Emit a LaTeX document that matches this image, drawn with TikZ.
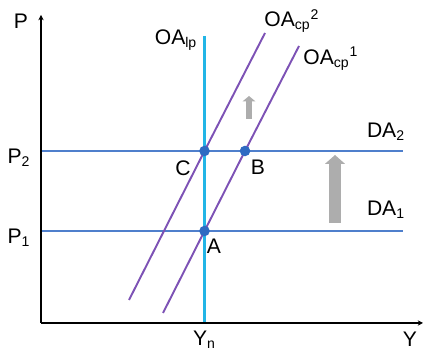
\documentclass[tikz,border=0pt]{standalone}
\usepackage{fontspec}
\setmainfont{Liberation Sans}
\usetikzlibrary{arrows.meta,positioning,calc,backgrounds}
\definecolor{MarketDemand}{HTML}{4F7FCC}
\definecolor{MarketLongRun}{HTML}{22B5E6}
\definecolor{MarketShortRun}{HTML}{7D52B5}
\definecolor{MarketPoint}{HTML}{2E6AC2}
\definecolor{MarketShift}{HTML}{ADADAD}

\begin{document}
\begin{tikzpicture}[>=Stealth, font=\large,
   axis/.style={line width=0.9pt, -{Stealth[length=3pt,width=3pt]}},
   demand/.style={MarketDemand, line width=1.2pt},
   longrun/.style={MarketLongRun, line width=1.2pt},
   shortrun/.style={MarketShortRun, line width=1.1pt},
   eqpoint/.style={circle, fill=MarketPoint, inner sep=0pt, minimum size=6pt},
   shiftarrow/.style={MarketShift}]
  \useasboundingbox (0,0) rectangle (8.48,7.08);
  % axes
  \coordinate (o) at (0.82,0.62);
  \coordinate (ptop) at (0.82,6.78);
  \coordinate (yend) at (8.46,0.62);
  \draw[axis] (o) -- (ptop);
  \draw[axis] (o) -- (yend);
  \node (plab) at (0.42,6.66) {P};
  \node (ylab) at (8.20,0.30) {Y};
  \node (ynlab) at (4.09,0.28) {Y\textsubscript{n}};
  % points
  \node[eqpoint] (a) at (4.09,2.46) {};
  \node[eqpoint] (b) at (4.90,4.06) {};
  \node[eqpoint] (c) at (4.09,4.06) {};
  \node (alab) at (4.28,2.16) {A};
  \node (blab) at (5.16,3.74) {B};
  \node (clab) at (3.66,3.72) {C};
  \begin{scope}[on background layer]
    % demand
    \coordinate (p2) at (0.82,4.06);
    \coordinate (p1) at (0.82,2.46);
    \coordinate (da2end) at (8.06,4.06);
    \coordinate (da1end) at (8.06,2.46);
    \draw[demand] (p2) -- (c.center) -- (b.center) -- (da2end);
    \draw[demand] (p1) -- (a.center) -- (da1end);
    % long run supply
    \coordinate (lptop) at (4.09,6.36);
    \coordinate (lpbot) at (4.09,0.62);
    \draw[longrun] (lptop) -- (lpbot);
    % short run supply
    \coordinate (cp1bot) at (3.26,0.82);
    \coordinate (cp1top) at (5.98,6.16);
    \coordinate (cp2bot) at (2.58,1.08);
    \coordinate (cp2top) at (5.30,6.42);
    \draw[shortrun] (cp1bot) -- (a.center) -- (b.center) -- (cp1top);
    \draw[shortrun] (cp2bot) -- (c.center) -- (cp2top);
  \end{scope}
  \node (p2lab) at (0.38,3.92) {P\textsubscript{2}};
  \node (p1lab) at (0.38,2.32) {P\textsubscript{1}};
  \node (da2lab) at (7.72,4.44) {DA\textsubscript{2}};
  \node (da1lab) at (7.72,2.88) {DA\textsubscript{1}};
  \node (lplab) at (3.52,6.28) {OA\textsubscript{lp}};
  \node[anchor=west, inner sep=0pt] (cp1lab) at (6.06,5.90) {OA\textsubscript{cp}\textsuperscript{1}};
  \node[anchor=west, inner sep=0pt] (cp2lab) at (5.28,6.66) {OA\textsubscript{cp}\textsuperscript{2}};
  % shifts
  \coordinate (sbot) at (4.98,4.70);
  \coordinate (stop) at (4.98,5.16);
  \draw[shiftarrow, line width=3pt, -{Triangle[length=3pt,width=7pt]}] (sbot) -- (stop);
  \coordinate (bbot) at (6.70,2.62);
  \coordinate (btop) at (6.70,3.98);
  \draw[shiftarrow, line width=7pt, -{Triangle[length=5pt,width=11pt]}] (bbot) -- (btop);
\end{tikzpicture}
\end{document}
